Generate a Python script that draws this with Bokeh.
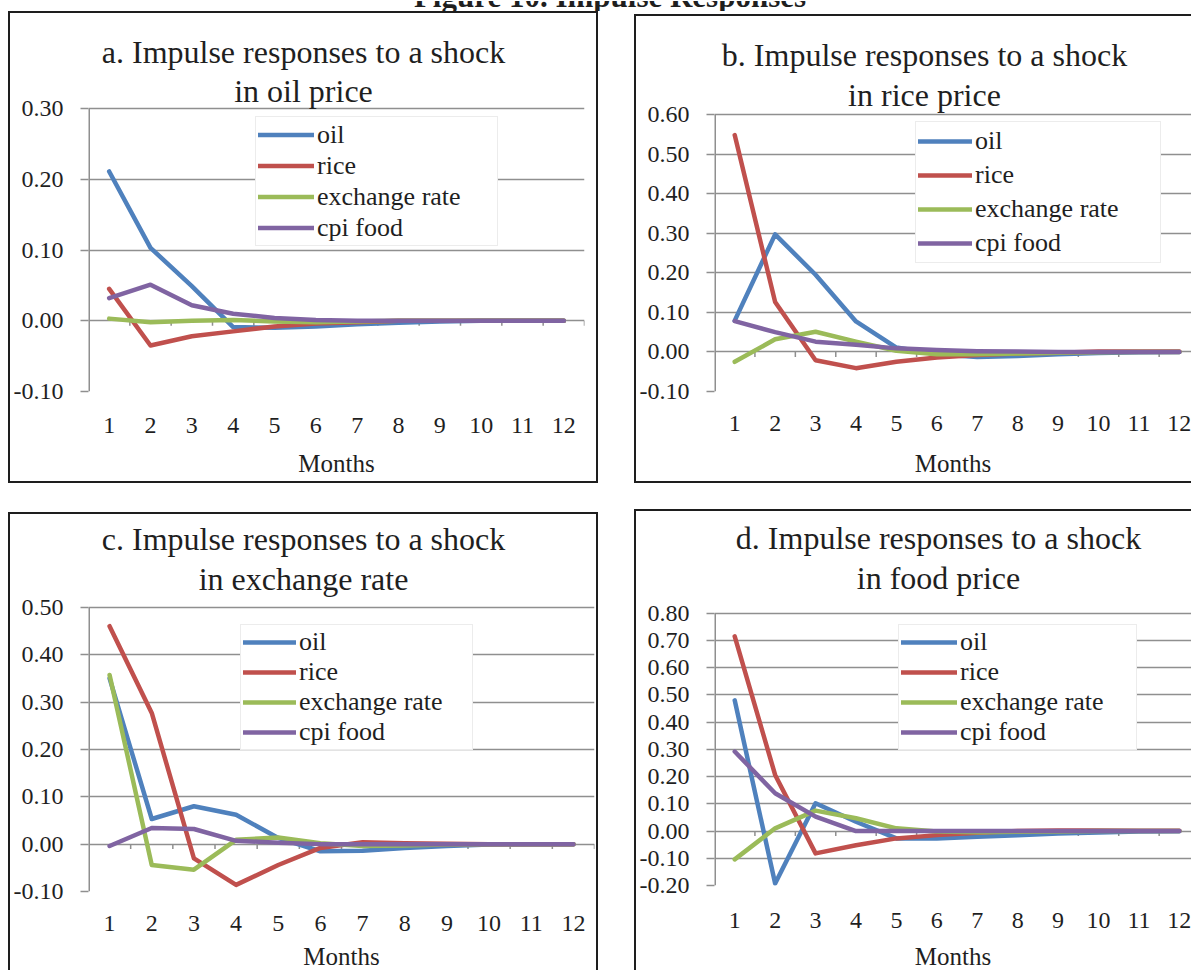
from bokeh.plotting import figure
from bokeh.models import (Range1d, FixedTicker, NumeralTickFormatter, Label,
                          Legend, LegendItem, Div, Spacer)
from bokeh.layouts import row, column
from bokeh.embed import file_html
from bokeh.resources import INLINE

# ---------------- data ----------------
months = list(range(1, 13))
series_names = ["oil", "rice", "exchange rate", "cpi food"]
series_colors = ["#4F81BD", "#C0504D", "#9BBB59", "#8064A2"]

# a. shock in oil price
a_oil  = [0.211, 0.103, 0.049, -0.009, -0.010, -0.008, -0.005, -0.003, -0.001, 0.000, 0.000, 0.000]
a_rice = [0.045, -0.035, -0.022, -0.015, -0.008, -0.004, -0.002, 0.000, 0.000, 0.000, 0.000, 0.000]
a_exch = [0.003, -0.002, 0.000, 0.001, -0.001, -0.002, -0.001, 0.000, 0.000, 0.000, 0.000, 0.000]
a_cpi  = [0.032, 0.051, 0.022, 0.010, 0.004, 0.001, 0.000, 0.000, 0.000, 0.000, 0.000, 0.000]
a_yticks = [-0.10, 0.00, 0.10, 0.20, 0.30]

# b. shock in rice price
b_oil  = [0.079, 0.297, 0.195, 0.077, 0.011, -0.006, -0.013, -0.010, -0.006, -0.003, -0.001, 0.000]
b_rice = [0.548, 0.126, -0.021, -0.041, -0.025, -0.014, -0.008, -0.004, -0.002, 0.001, 0.001, 0.001]
b_exch = [-0.025, 0.032, 0.051, 0.026, 0.003, -0.006, -0.006, -0.004, -0.002, -0.001, 0.000, 0.000]
b_cpi  = [0.078, 0.050, 0.026, 0.018, 0.009, 0.005, 0.002, 0.001, 0.000, 0.000, 0.000, 0.000]
b_yticks = [-0.10, 0.00, 0.10, 0.20, 0.30, 0.40, 0.50, 0.60]

# c. shock in exchange rate
c_oil  = [0.350, 0.053, 0.080, 0.062, 0.013, -0.015, -0.014, -0.008, -0.004, -0.001, 0.000, 0.000]
c_rice = [0.460, 0.277, -0.030, -0.086, -0.044, -0.008, 0.004, 0.002, 0.001, 0.000, 0.000, 0.000]
c_exch = [0.357, -0.044, -0.054, 0.009, 0.014, 0.002, -0.004, -0.003, -0.001, 0.000, 0.000, 0.000]
c_cpi  = [-0.004, 0.034, 0.032, 0.007, 0.003, 0.000, 0.000, 0.000, 0.000, 0.000, 0.000, 0.000]
c_yticks = [-0.10, 0.00, 0.10, 0.20, 0.30, 0.40, 0.50]

# d. shock in food price
d_oil  = [0.480, -0.193, 0.102, 0.034, -0.027, -0.027, -0.021, -0.015, -0.009, -0.005, -0.002, -0.001]
d_rice = [0.715, 0.206, -0.082, -0.052, -0.027, -0.015, -0.006, 0.000, 0.002, 0.002, 0.001, 0.001]
d_exch = [-0.104, 0.010, 0.075, 0.047, 0.010, -0.002, -0.004, -0.003, -0.002, 0.000, 0.000, 0.000]
d_cpi  = [0.292, 0.139, 0.053, 0.000, 0.000, 0.000, 0.000, 0.000, 0.000, 0.000, 0.000, 0.000]
d_yticks = [-0.20, -0.10, 0.00, 0.10, 0.20, 0.30, 0.40, 0.50, 0.60, 0.70, 0.80]

# ---------------- style ----------------
FONT = "Liberation Serif"
TXT = "#1f1f1f"
GRID = "#8F8F8F"
BW = 2
BORDER = "%dpx solid #1e1e1e" % BW
TITLE_SHIFT = 11  # empirical correction of label baseline placement


def make_panel(title1, title2, values, y_ticks, g):
    sides = g["sides"]
    # the canvas keeps the full figure size and is offset by the left/top border
    cx0 = g["x0"] + (BW if "left" in sides else 0)
    cy0 = g["y0"] + (BW if "top" in sides else 0)
    cx1 = cx0 + g["w"]
    cy1 = cy0 + g["h"]
    fl, fr, ftick, fb = g["frame_l"], g["frame_r"], g["tick_top"], g["frame_b"]
    ml, mr, mt, mb = fl - cx0, max(cx1 - fr, 0), 0, cy1 - fb
    ppu = (fb - ftick) / (y_ticks[-1] - y_ticks[0])
    y_end = y_ticks[-1] + (ftick - cy0) / ppu
    styles = {("border-" + s): BORDER for s in sides}

    p = figure(width=g["w"], height=g["h"], x_range=Range1d(0.5, g["x_end"]),
               y_range=Range1d(y_ticks[0], y_end),
               output_backend="svg", toolbar_location=None,
               min_border_left=ml, min_border_right=mr,
               min_border_top=mt, min_border_bottom=mb,
               background_fill_color="white", border_fill_color="white",
               outline_line_color=None, margin=0, styles=styles)
    p.xgrid.visible = False
    p.ygrid.ticker = FixedTicker(ticks=y_ticks)
    p.ygrid.grid_line_color = GRID
    p.ygrid.grid_line_width = 1.5
    p.yaxis.ticker = FixedTicker(ticks=y_ticks)
    p.yaxis.formatter = NumeralTickFormatter(format="0.00")
    p.yaxis.axis_line_color = None
    p.yaxis.major_tick_line_color = GRID
    p.yaxis.major_tick_line_width = 1.5
    p.yaxis.major_tick_out = 8
    p.yaxis.major_tick_in = 0
    p.yaxis.minor_tick_line_color = None
    p.yaxis.major_label_standoff = 17
    p.yaxis.major_label_text_font = FONT
    p.yaxis.major_label_text_font_size = "24px"
    p.yaxis.major_label_text_color = TXT
    # vertical axis line only over the tick span
    p.segment(x0=[0.5], x1=[0.5], y0=[y_ticks[0]], y1=[y_ticks[-1]],
              line_color=GRID, line_width=3)
    # x axis (labels only, at bottom)
    p.xaxis.ticker = FixedTicker(ticks=months)
    p.xaxis.axis_line_color = None
    p.xaxis.major_tick_line_color = None
    p.xaxis.minor_tick_line_color = None
    p.xaxis.major_tick_out = 0
    p.xaxis.major_tick_in = 0
    p.xaxis.major_label_standoff = g["xl_standoff"]
    p.xaxis.major_label_text_font = FONT
    p.xaxis.major_label_text_font_size = "24px"
    p.xaxis.major_label_text_color = TXT
    p.xaxis.axis_label = "Months"
    p.xaxis.axis_label_text_font = FONT
    p.xaxis.axis_label_text_font_size = "25px"
    p.xaxis.axis_label_text_font_style = "normal"
    p.xaxis.axis_label_text_color = TXT
    p.xaxis.axis_label_standoff = g["al_standoff"]

    # category tick marks on the zero line
    bounds = [m + 0.5 for m in months]
    tick_len = 5.0 / ppu
    p.segment(x0=bounds, x1=bounds, y0=[0.0] * len(bounds),
              y1=[-tick_len] * len(bounds), line_color=GRID, line_width=1.5)

    items = []
    for name, color, vals in zip(series_names, series_colors, values):
        r = p.line(months, vals, line_color=color, line_width=4.5,
                   line_cap="round", line_join="round")
        items.append(LegendItem(label=name, renderers=[r]))

    lg = Legend(items=items, location=(g["leg_l"] - fl, fb - g["leg_b"]),
                orientation="vertical",
                glyph_width=g["glyph_w"], glyph_height=g["row_h"],
                label_height=g["row_h"], label_width=g["label_w"],
                label_standoff=3, padding=2, spacing=0, margin=0,
                border_line_color="#D9D9D9", border_line_width=1.5,
                background_fill_color="white", background_fill_alpha=1.0,
                label_text_font=FONT, label_text_font_size="26px",
                label_text_color=TXT)
    p.add_layout(lg)

    for txt, base in ((title1, g["base1"]), (title2, g["base2"])):
        p.add_layout(Label(x=g["title_cx"] - fl, y=fb - base + TITLE_SHIFT,
                           x_units="screen", y_units="screen",
                           text=txt, text_align="center",
                           text_baseline="alphabetic", text_font=FONT,
                           text_font_size="32px", text_color=TXT))
    return p


geo_a = dict(x0=8, y0=11, w=590, h=472, sides=["top", "left", "right", "bottom"],
             frame_l=88, frame_r=584, tick_top=108, frame_b=391, x_end=12.5,
             title_cx=303, base1=62, base2=101, leg_l=255, leg_b=246,
             xl_standoff=26, al_standoff=14, glyph_w=56, row_h=31, label_w=178)
geo_b = dict(x0=634, y0=14, w=557, h=469, sides=["top", "left", "bottom"],
             frame_l=714, frame_r=1191, tick_top=114, frame_b=391, x_end=12.3,
             title_cx=924, base1=65, base2=105, leg_l=915, leg_b=263,
             xl_standoff=24, al_standoff=16, glyph_w=54, row_h=34, label_w=183)
geo_c = dict(x0=8, y0=512, w=590, h=458, sides=["top", "left", "right"],
             frame_l=88, frame_r=594, tick_top=607, frame_b=892, x_end=12.5,
             title_cx=303, base1=550, base2=590, leg_l=240, leg_b=751,
             xl_standoff=24, al_standoff=9, glyph_w=53, row_h=30, label_w=171)
geo_d = dict(x0=634, y0=509, w=557, h=461, sides=["top", "left"],
             frame_l=714, frame_r=1191, tick_top=613, frame_b=886, x_end=12.3,
             title_cx=938, base1=549, base2=589, leg_l=898, leg_b=751,
             xl_standoff=27, al_standoff=12, glyph_w=56, row_h=30, label_w=174)

pa = make_panel("a. Impulse responses to a shock", "in oil price",
                [a_oil, a_rice, a_exch, a_cpi], a_yticks, geo_a)
pb = make_panel("b. Impulse responses to a shock", "in rice price",
                [b_oil, b_rice, b_exch, b_cpi], b_yticks, geo_b)
pc = make_panel("c. Impulse responses to a shock", "in exchange rate",
                [c_oil, c_rice, c_exch, c_cpi], c_yticks, geo_c)
pd = make_panel("d. Impulse responses to a shock", "in food price",
                [d_oil, d_rice, d_exch, d_cpi], d_yticks, geo_d)

head = Div(
    text=('<div style="position:relative;width:1191px;height:11px;overflow:hidden;">'
          '<div style="position:absolute;left:29px;right:0;top:-20px;text-align:center;'
          "font-family:'Liberation Serif';font-weight:bold;font-size:31px;line-height:31px;"
          'color:#1f1f1f;white-space:nowrap;">Figure 10. Impulse Responses</div></div>'),
    width=1191, height=11, margin=0, styles={"overflow": "hidden"})


def sp(w, h):
    return Spacer(width=w, height=h, margin=0)


row1 = row(sp(8, 10), pa, sp(36, 10),
           column(sp(10, 3), pb, spacing=0, margin=0),
           spacing=0, margin=0)
row2 = row(sp(8, 10), column(sp(10, 3), pc, spacing=0, margin=0),
           sp(36, 10), pd, spacing=0, margin=0)
layout = column(head, row1, sp(10, 26), row2, spacing=0, margin=0)

with open("out.html", "w") as f:
    f.write(file_html(layout, INLINE))
